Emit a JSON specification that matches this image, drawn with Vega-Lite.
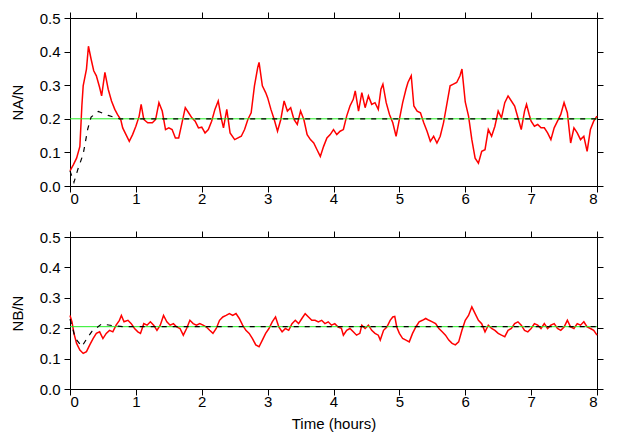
{
"$schema": "https://vega.github.io/schema/vega-lite/v6.json",
"padding": {"left": 9, "top": 10, "right": 10, "bottom": 5},
"background": "white",
"config": {
  "view": {"stroke": "black", "strokeWidth": 1},
  "axis": {"labelFont": "Liberation Sans", "titleFont": "Liberation Sans", "labelFontSize": 15, "titleFontSize": 15, "titleFontWeight": "normal", "labelColor": "black", "titleColor": "black", "tickColor": "#000000", "tickOpacity": 1, "domain": false, "grid": false, "ticks": true, "tickSize": 6, "tickWidth": 1, "zindex": 1, "labelPadding": 5}
},
"datasets": {
  "topRed": [
    {"t":0,"v":0.045},{"t":0.05,"v":0.063},{"t":0.1,"v":0.083},{"t":0.15,"v":0.118},{"t":0.18,"v":0.238},{"t":0.2,"v":0.298},{"t":0.25,"v":0.348},{"t":0.28,"v":0.416},{"t":0.32,"v":0.378},{"t":0.36,"v":0.343},{"t":0.4,"v":0.328},{"t":0.45,"v":0.293},{"t":0.48,"v":0.268},{"t":0.53,"v":0.338},{"t":0.58,"v":0.288},{"t":0.63,"v":0.253},{"t":0.68,"v":0.228},{"t":0.72,"v":0.213},{"t":0.77,"v":0.198},{"t":0.8,"v":0.173},{"t":0.85,"v":0.153},{"t":0.9,"v":0.133},{"t":0.95,"v":0.153},{"t":1.0,"v":0.178},{"t":1.05,"v":0.208},{"t":1.08,"v":0.243},{"t":1.12,"v":0.198},{"t":1.18,"v":0.188},{"t":1.25,"v":0.188},{"t":1.3,"v":0.198},{"t":1.35,"v":0.248},{"t":1.4,"v":0.223},{"t":1.45,"v":0.168},{"t":1.5,"v":0.173},{"t":1.55,"v":0.168},{"t":1.6,"v":0.143},{"t":1.65,"v":0.143},{"t":1.7,"v":0.188},{"t":1.75,"v":0.233},{"t":1.8,"v":0.218},{"t":1.85,"v":0.203},{"t":1.9,"v":0.193},{"t":1.95,"v":0.173},{"t":2.0,"v":0.175},{"t":2.05,"v":0.158},{"t":2.1,"v":0.168},{"t":2.15,"v":0.193},{"t":2.2,"v":0.228},{"t":2.25,"v":0.253},{"t":2.3,"v":0.198},{"t":2.33,"v":0.173},{"t":2.38,"v":0.228},{"t":2.43,"v":0.158},{"t":2.5,"v":0.138},{"t":2.55,"v":0.143},{"t":2.6,"v":0.148},{"t":2.65,"v":0.168},{"t":2.7,"v":0.198},{"t":2.75,"v":0.218},{"t":2.8,"v":0.298},{"t":2.85,"v":0.353},{"t":2.87,"v":0.368},{"t":2.92,"v":0.298},{"t":2.97,"v":0.278},{"t":3.0,"v":0.263},{"t":3.05,"v":0.228},{"t":3.1,"v":0.198},{"t":3.15,"v":0.163},{"t":3.2,"v":0.198},{"t":3.25,"v":0.253},{"t":3.3,"v":0.223},{"t":3.35,"v":0.233},{"t":3.4,"v":0.198},{"t":3.45,"v":0.183},{"t":3.5,"v":0.223},{"t":3.55,"v":0.198},{"t":3.6,"v":0.153},{"t":3.65,"v":0.138},{"t":3.7,"v":0.128},{"t":3.75,"v":0.108},{"t":3.8,"v":0.088},{"t":3.85,"v":0.118},{"t":3.9,"v":0.143},{"t":3.95,"v":0.153},{"t":4.0,"v":0.168},{"t":4.05,"v":0.153},{"t":4.1,"v":0.163},{"t":4.15,"v":0.168},{"t":4.2,"v":0.208},{"t":4.25,"v":0.238},{"t":4.3,"v":0.258},{"t":4.33,"v":0.283},{"t":4.38,"v":0.223},{"t":4.43,"v":0.278},{"t":4.48,"v":0.233},{"t":4.53,"v":0.268},{"t":4.58,"v":0.243},{"t":4.63,"v":0.248},{"t":4.68,"v":0.228},{"t":4.72,"v":0.288},{"t":4.75,"v":0.303},{"t":4.8,"v":0.248},{"t":4.85,"v":0.213},{"t":4.9,"v":0.188},{"t":4.95,"v":0.148},{"t":5.0,"v":0.198},{"t":5.05,"v":0.248},{"t":5.1,"v":0.288},{"t":5.13,"v":0.308},{"t":5.18,"v":0.328},{"t":5.22,"v":0.238},{"t":5.27,"v":0.223},{"t":5.32,"v":0.218},{"t":5.37,"v":0.188},{"t":5.42,"v":0.163},{"t":5.47,"v":0.133},{"t":5.52,"v":0.148},{"t":5.57,"v":0.128},{"t":5.62,"v":0.148},{"t":5.67,"v":0.188},{"t":5.72,"v":0.243},{"t":5.77,"v":0.298},{"t":5.82,"v":0.303},{"t":5.87,"v":0.308},{"t":5.92,"v":0.328},{"t":5.95,"v":0.348},{"t":6.0,"v":0.25},{"t":6.05,"v":0.208},{"t":6.1,"v":0.138},{"t":6.15,"v":0.083},{"t":6.2,"v":0.068},{"t":6.25,"v":0.103},{"t":6.3,"v":0.108},{"t":6.35,"v":0.168},{"t":6.4,"v":0.148},{"t":6.45,"v":0.178},{"t":6.5,"v":0.223},{"t":6.55,"v":0.203},{"t":6.6,"v":0.248},{"t":6.65,"v":0.268},{"t":6.7,"v":0.253},{"t":6.75,"v":0.238},{"t":6.8,"v":0.203},{"t":6.85,"v":0.168},{"t":6.9,"v":0.223},{"t":6.93,"v":0.243},{"t":6.97,"v":0.213},{"t":7.0,"v":0.193},{"t":7.05,"v":0.178},{"t":7.1,"v":0.183},{"t":7.15,"v":0.173},{"t":7.2,"v":0.173},{"t":7.25,"v":0.158},{"t":7.3,"v":0.138},{"t":7.35,"v":0.173},{"t":7.4,"v":0.193},{"t":7.45,"v":0.213},{"t":7.5,"v":0.248},{"t":7.55,"v":0.218},{"t":7.6,"v":0.128},{"t":7.65,"v":0.173},{"t":7.7,"v":0.158},{"t":7.75,"v":0.138},{"t":7.8,"v":0.148},{"t":7.85,"v":0.103},{"t":7.9,"v":0.168},{"t":7.95,"v":0.193},{"t":8.0,"v":0.208}
  ],
  "topTheory": [
    {"t":0,"v":0.045},{"t":0.06,"v":0.011},{"t":0.12,"v":0.05},{"t":0.2,"v":0.095},{"t":0.27,"v":0.17},{"t":0.32,"v":0.205},{"t":0.43,"v":0.222},{"t":0.58,"v":0.21},{"t":0.75,"v":0.2},{"t":8,"v":0.2}
  ],
  "topFixed": [{"v":0.2}],
  "botRed": [
    {"t":0,"v":0.242},{"t":0.03,"v":0.221},{"t":0.06,"v":0.183},{"t":0.1,"v":0.15},{"t":0.15,"v":0.128},{"t":0.2,"v":0.117},{"t":0.25,"v":0.123},{"t":0.3,"v":0.145},{"t":0.35,"v":0.166},{"t":0.4,"v":0.183},{"t":0.45,"v":0.188},{"t":0.5,"v":0.166},{"t":0.55,"v":0.183},{"t":0.6,"v":0.193},{"t":0.65,"v":0.188},{"t":0.7,"v":0.21},{"t":0.75,"v":0.226},{"t":0.78,"v":0.242},{"t":0.82,"v":0.221},{"t":0.88,"v":0.226},{"t":0.93,"v":0.215},{"t":0.98,"v":0.199},{"t":1.03,"v":0.188},{"t":1.07,"v":0.183},{"t":1.12,"v":0.215},{"t":1.17,"v":0.21},{"t":1.22,"v":0.221},{"t":1.27,"v":0.21},{"t":1.32,"v":0.193},{"t":1.37,"v":0.21},{"t":1.42,"v":0.242},{"t":1.47,"v":0.221},{"t":1.52,"v":0.21},{"t":1.57,"v":0.215},{"t":1.62,"v":0.204},{"t":1.67,"v":0.199},{"t":1.72,"v":0.177},{"t":1.77,"v":0.199},{"t":1.82,"v":0.226},{"t":1.87,"v":0.215},{"t":1.92,"v":0.21},{"t":1.97,"v":0.215},{"t":2.02,"v":0.21},{"t":2.07,"v":0.204},{"t":2.12,"v":0.193},{"t":2.17,"v":0.183},{"t":2.22,"v":0.199},{"t":2.27,"v":0.226},{"t":2.32,"v":0.237},{"t":2.37,"v":0.242},{"t":2.42,"v":0.248},{"t":2.47,"v":0.242},{"t":2.52,"v":0.248},{"t":2.57,"v":0.232},{"t":2.62,"v":0.21},{"t":2.67,"v":0.193},{"t":2.72,"v":0.183},{"t":2.77,"v":0.166},{"t":2.82,"v":0.145},{"t":2.87,"v":0.139},{"t":2.92,"v":0.161},{"t":2.97,"v":0.183},{"t":3.02,"v":0.199},{"t":3.07,"v":0.221},{"t":3.12,"v":0.237},{"t":3.17,"v":0.204},{"t":3.22,"v":0.188},{"t":3.27,"v":0.199},{"t":3.32,"v":0.193},{"t":3.37,"v":0.215},{"t":3.42,"v":0.226},{"t":3.47,"v":0.215},{"t":3.52,"v":0.232},{"t":3.57,"v":0.248},{"t":3.62,"v":0.237},{"t":3.67,"v":0.226},{"t":3.72,"v":0.226},{"t":3.77,"v":0.221},{"t":3.82,"v":0.226},{"t":3.87,"v":0.215},{"t":3.92,"v":0.221},{"t":3.97,"v":0.21},{"t":4.02,"v":0.215},{"t":4.07,"v":0.204},{"t":4.12,"v":0.2},{"t":4.15,"v":0.177},{"t":4.2,"v":0.193},{"t":4.25,"v":0.199},{"t":4.3,"v":0.188},{"t":4.35,"v":0.177},{"t":4.4,"v":0.183},{"t":4.43,"v":0.21},{"t":4.48,"v":0.199},{"t":4.53,"v":0.21},{"t":4.58,"v":0.193},{"t":4.63,"v":0.183},{"t":4.68,"v":0.177},{"t":4.71,"v":0.161},{"t":4.76,"v":0.193},{"t":4.81,"v":0.204},{"t":4.86,"v":0.226},{"t":4.9,"v":0.237},{"t":4.93,"v":0.239},{"t":4.96,"v":0.204},{"t":5.0,"v":0.183},{"t":5.05,"v":0.166},{"t":5.1,"v":0.161},{"t":5.15,"v":0.155},{"t":5.2,"v":0.183},{"t":5.25,"v":0.204},{"t":5.3,"v":0.221},{"t":5.35,"v":0.226},{"t":5.4,"v":0.232},{"t":5.45,"v":0.226},{"t":5.5,"v":0.221},{"t":5.55,"v":0.215},{"t":5.6,"v":0.199},{"t":5.65,"v":0.188},{"t":5.7,"v":0.177},{"t":5.75,"v":0.161},{"t":5.8,"v":0.15},{"t":5.85,"v":0.145},{"t":5.9,"v":0.155},{"t":5.95,"v":0.193},{"t":6.0,"v":0.226},{"t":6.05,"v":0.242},{"t":6.08,"v":0.259},{"t":6.1,"v":0.27},{"t":6.15,"v":0.248},{"t":6.2,"v":0.226},{"t":6.25,"v":0.215},{"t":6.3,"v":0.188},{"t":6.35,"v":0.21},{"t":6.4,"v":0.199},{"t":6.45,"v":0.193},{"t":6.5,"v":0.183},{"t":6.55,"v":0.177},{"t":6.6,"v":0.172},{"t":6.65,"v":0.193},{"t":6.7,"v":0.199},{"t":6.75,"v":0.215},{"t":6.8,"v":0.221},{"t":6.85,"v":0.21},{"t":6.9,"v":0.193},{"t":6.95,"v":0.188},{"t":7.0,"v":0.199},{"t":7.05,"v":0.215},{"t":7.1,"v":0.21},{"t":7.15,"v":0.199},{"t":7.2,"v":0.215},{"t":7.25,"v":0.199},{"t":7.3,"v":0.21},{"t":7.35,"v":0.215},{"t":7.4,"v":0.199},{"t":7.45,"v":0.193},{"t":7.5,"v":0.204},{"t":7.55,"v":0.226},{"t":7.6,"v":0.204},{"t":7.65,"v":0.199},{"t":7.7,"v":0.215},{"t":7.75,"v":0.21},{"t":7.8,"v":0.221},{"t":7.85,"v":0.204},{"t":7.9,"v":0.199},{"t":7.95,"v":0.193},{"t":8.0,"v":0.177}
  ],
  "botTheory": [
    {"t":0,"v":0.23},{"t":0.04,"v":0.2},{"t":0.08,"v":0.167},{"t":0.18,"v":0.14},{"t":0.26,"v":0.167},{"t":0.33,"v":0.189},{"t":0.48,"v":0.214},{"t":0.66,"v":0.208},{"t":0.8,"v":0.205},{"t":8,"v":0.205}
  ],
  "botFixed": [{"v":0.205}]
},
"spacing": 22,
"vconcat": [
  {
    "width": 527, "height": 168,
    "layer": [
      {"data": {"name": "topRed"}, "mark": {"type": "line", "color": "#ff0000", "strokeWidth": 1.5},
       "encoding": {
         "x": {"field": "t", "type": "quantitative", "scale": {"domain": [0, 8], "nice": false}, "axis": {"values": [0,1,2,3,4,5,6,7,8], "title": null, "ticks": true, "labelPadding": -1}},
         "y": {"field": "v", "type": "quantitative", "scale": {"domain": [0, 0.5], "nice": false}, "axis": {"values": [0,0.1,0.2,0.3,0.4,0.5], "format": ".1f", "title": "NA/N", "ticks": true, "labelPadding": 4, "titlePadding": 14}}
       }},
      {"data": {"name": "topFixed"}, "mark": {"type": "rule", "color": "#22ee22", "strokeWidth": 1},
       "encoding": {"y": {"field": "v", "type": "quantitative", "axis": null}}},
      {"data": {"name": "topTheory"}, "mark": {"type": "line", "color": "black", "strokeWidth": 1.2, "strokeDash": [5, 6]},
       "encoding": {
         "x": {"field": "t", "type": "quantitative", "axis": {"orient": "top", "values": [0,1,2,3,4,5,6,7,8], "ticks": true, "labels": false, "title": null}},
         "y": {"field": "v", "type": "quantitative", "axis": {"orient": "right", "values": [0,0.1,0.2,0.3,0.4,0.5], "ticks": true, "labels": false, "title": null}}
       }}
    ],
    "resolve": {"axis": {"x": "independent", "y": "independent"}}
  },
  {
    "width": 527, "height": 152,
    "layer": [
      {"data": {"name": "botRed"}, "mark": {"type": "line", "color": "#ff0000", "strokeWidth": 1.5},
       "encoding": {
         "x": {"field": "t", "type": "quantitative", "scale": {"domain": [0, 8], "nice": false}, "axis": {"values": [0,1,2,3,4,5,6,7,8], "title": "Time (hours)", "ticks": true, "labelPadding": -1, "titlePadding": 7}},
         "y": {"field": "v", "type": "quantitative", "scale": {"domain": [0, 0.5], "nice": false}, "axis": {"values": [0,0.1,0.2,0.3,0.4,0.5], "format": ".1f", "title": "NB/N", "ticks": true, "labelPadding": 4, "titlePadding": 14}}
       }},
      {"data": {"name": "botFixed"}, "mark": {"type": "rule", "color": "#22ee22", "strokeWidth": 1},
       "encoding": {"y": {"field": "v", "type": "quantitative", "axis": null}}},
      {"data": {"name": "botTheory"}, "mark": {"type": "line", "color": "black", "strokeWidth": 1.2, "strokeDash": [5, 6]},
       "encoding": {
         "x": {"field": "t", "type": "quantitative", "axis": {"orient": "top", "values": [0,1,2,3,4,5,6,7,8], "ticks": true, "labels": false, "title": null}},
         "y": {"field": "v", "type": "quantitative", "axis": {"orient": "right", "values": [0,0.1,0.2,0.3,0.4,0.5], "ticks": true, "labels": false, "title": null}}
       }}
    ],
    "resolve": {"axis": {"x": "independent", "y": "independent"}}
  }
]
}
